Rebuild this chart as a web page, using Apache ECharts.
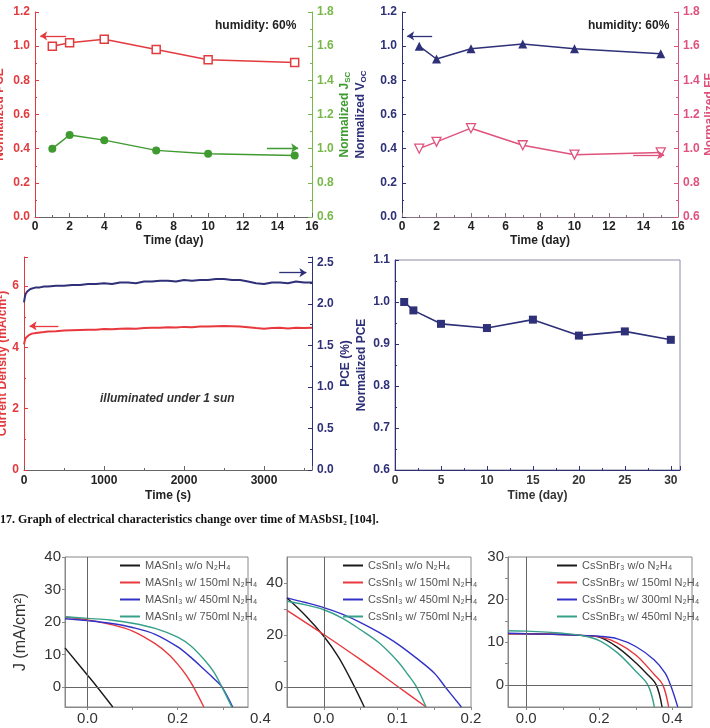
<!DOCTYPE html>
<html lang="en">
<head>
<meta charset="UTF-8">
<title>Stability of MASbSI2 and J-V curves</title>
<script src="https://cdn.jsdelivr.net/npm/echarts@6/dist/echarts.min.js"></script>
<style>
  html, body { margin: 0; padding: 0; background: #fff; }
  #main { width: 710px; height: 728px; }
</style>
</head>
<body>
<div id="main"></div>
<script>
// humidity test (top row)
var humDays = [1, 2, 4, 7, 10, 15];
var pceHum = [1.00, 1.02, 1.04, 0.98, 0.92, 0.905];
var jscHum = [1.00, 1.08, 1.05, 0.99, 0.97, 0.96];
var vocHum = [1.00, 0.925, 0.985, 1.012, 0.985, 0.955];
var ffHum = [1.00, 1.04, 1.12, 1.02, 0.965, 0.978];

// stabilised output under 1 sun
var stabTime = [0, 10, 20, 40, 60, 80, 100, 150, 200, 250,
  300, 400, 500, 600, 700, 800, 900, 1000, 1100, 1200, 1300, 1400, 1500, 1600, 1700,
  1800, 1900, 2000, 2100, 2200, 2300, 2400, 2500, 2600, 2700, 2800, 2900, 3000, 3100,
  3200, 3300, 3400, 3500, 3600];
var stabJ = [4.10, 4.22, 4.30, 4.36, 4.40, 4.43, 4.45, 4.47, 4.49, 4.50,
  4.52, 4.53, 4.55, 4.56, 4.57, 4.58, 4.58, 4.60, 4.59, 4.61, 4.62, 4.61, 4.63, 4.64, 4.64,
  4.66, 4.65, 4.67, 4.66, 4.68, 4.68, 4.69, 4.70, 4.69, 4.68, 4.66, 4.63, 4.61, 4.63,
  4.64, 4.62, 4.64, 4.63, 4.64];
var stabPCE = [2.02, 2.08, 2.12, 2.15, 2.17, 2.18, 2.19, 2.20, 2.20, 2.21,
  2.21, 2.22, 2.22, 2.23, 2.23, 2.24, 2.24, 2.25, 2.24, 2.26, 2.26, 2.25, 2.27, 2.27, 2.28,
  2.28, 2.27, 2.29, 2.28, 2.29, 2.29, 2.30, 2.30, 2.29, 2.29, 2.27, 2.25, 2.24, 2.26,
  2.26, 2.25, 2.27, 2.26, 2.26];

// long term
var ltDays = [1, 2, 5, 10, 15, 20, 25, 30];
var ltPCE = [1.00, 0.98, 0.948, 0.938, 0.958, 0.92, 0.93, 0.91];

// J-V curves, MASnI3
var maNames = ['MASnI₃ w/o N₂H₄', 'MASnI₃ w/ 150ml N₂H₄', 'MASnI₃ w/ 450ml N₂H₄', 'MASnI₃ w/ 750ml N₂H₄'];
var maV0 = [-0.05, 0.0, 0.02, 0.056];
var maJ0 = [12.0, 3.6, 0.2, -6.2];
var maV1 = [-0.05, 0, 0.05, 0.1, 0.15, 0.18, 0.2, 0.22, 0.235, 0.258];
var maJ1 = [21.5, 20.6, 19.3, 17.2, 13.3, 10.0, 7.0, 3.4, 0, -6.2];
var maV2 = [-0.05, 0, 0.05, 0.1, 0.15, 0.2, 0.23, 0.26, 0.28, 0.298, 0.322];
var maJ2 = [21.0, 20.4, 19.6, 18.3, 16.2, 12.3, 9.0, 5.2, 2.6, 0, -6.2];
var maV3 = [-0.05, 0, 0.05, 0.1, 0.15, 0.2, 0.23, 0.26, 0.28, 0.298, 0.32];
var maJ3 = [21.6, 21.1, 20.6, 19.6, 18.0, 15.3, 12.5, 8.2, 4.6, 0, -6.2];

// J-V curves, CsSnI3
var csiNames = ['CsSnI₃ w/o N₂H₄', 'CsSnI₃ w/ 150ml N₂H₄', 'CsSnI₃ w/ 450ml N₂H₄', 'CsSnI₃ w/ 750ml N₂H₄'];
var csiV0 = [-0.05, -0.025, 0, 0.02, 0.04, 0.055];
var csiJ0 = [34.2, 27.5, 19.5, 11.5, 1.0, -7.7];
var csiV1 = [-0.05, 0, 0.05, 0.1, 0.139];
var csiJ1 = [29.5, 20.2, 10.5, 0.3, -7.7];
var csiV2 = [-0.05, -0.025, 0, 0.025, 0.05, 0.075, 0.1, 0.125, 0.15, 0.165, 0.187];
var csiJ2 = [34.3, 32.5, 30.5, 28.0, 24.8, 21.0, 16.6, 11.3, 5.4, 0, -7.7];
var csiV3 = [-0.05, -0.025, 0, 0.025, 0.05, 0.075, 0.1, 0.115, 0.125, 0.139];
var csiJ3 = [33.0, 31.6, 29.7, 26.5, 22.0, 17.0, 10.0, 4.5, 0.5, -7.7];

// J-V curves, CsSnBr3
var cbNames = ['CsSnBr₃ w/o N₂H₄', 'CsSnBr₃ w/ 150ml N₂H₄', 'CsSnBr₃ w/ 300ml N₂H₄', 'CsSnBr₃ w/ 450ml N₂H₄'];
var cbV0 = [-0.05, 0, 0.1, 0.15, 0.2, 0.25, 0.3, 0.33, 0.356, 0.372];
var cbJ0 = [12.0, 11.95, 11.8, 11.6, 11.2, 8.8, 5.2, 2.6, 0, -5.2];
var cbV1 = [-0.05, 0, 0.1, 0.15, 0.2, 0.25, 0.3, 0.35, 0.374, 0.39];
var cbJ1 = [12.0, 11.95, 11.8, 11.6, 11.3, 9.8, 7.0, 2.5, 0, -5.2];
var cbV2 = [-0.05, 0, 0.1, 0.15, 0.2, 0.25, 0.3, 0.35, 0.38, 0.395, 0.415];
var cbJ2 = [12.1, 12.0, 11.8, 11.6, 11.4, 10.8, 9.0, 5.9, 2.8, 0, -5.2];
var cbV3 = [-0.05, 0, 0.1, 0.15, 0.2, 0.25, 0.3, 0.333, 0.351];
var cbJ3 = [12.7, 12.6, 12.1, 11.6, 10.4, 7.5, 3.2, 0, -5.2];

var SANS = "'Liberation Sans', Arial, sans-serif";
var RED = '#e23b3f', GREEN = '#3f9a30', GREEN_AX = '#78b84a', NAVY = '#2e3078', PINK = '#e0527e';
var JV_COLORS = ['#1a1a1a', '#e8383d', '#3232c8', '#36a08a'];

function pairs(xs, ys) {
  return xs.map(function (x, i) { return [x, ys[i]]; });
}

function arrow(color, from, to) {
  return {
    silent: true, symbol: ['none', 'arrow'], symbolSize: 7,
    label: { show: false }, lineStyle: { color: color, width: 1.3, type: 'solid' },
    data: [[{ coord: from }, { coord: to }]]
  };
}

function zeroLines() {
  return {
    silent: true, symbol: ['none', 'none'], label: { show: false },
    lineStyle: { color: '#666', width: 1, type: 'solid' },
    data: [{ xAxis: 0 }, { yAxis: 0 }]
  };
}

function boldText(color, size) {
  return { color: color, fontWeight: 'bold', fontSize: size || 12, fontFamily: SANS };
}

// axis for the "stability" panels
function sideAxis(o) {
  return {
    gridIndex: o.grid, type: 'value', position: o.pos,
    min: o.min, max: o.max, interval: o.step,
    axisLine: { show: true, onZero: false, lineStyle: { color: o.line } },
    axisTick: { show: true, inside: true, length: 4, lineStyle: { color: o.line } },
    minorTick: { show: true, splitNumber: 2, length: 2, lineStyle: { color: o.line } },
    splitLine: { show: false },
    axisLabel: {
      color: o.label, fontWeight: 'bold', fontSize: 12, fontFamily: SANS, margin: o.margin || 5,
      showMaxLabel: o.hideMax ? false : null,
      formatter: function (v) { return o.fixed == null ? String(v) : v.toFixed(o.fixed); }
    },
    name: o.name, nameLocation: 'middle', nameGap: o.gap,
    nameTextStyle: Object.assign(boldText(o.nameColor || o.label), { rich: o.rich || {} })
  };
}

// axis for the J-V panels
function jvAxis(grid, min, max, labels, ticks, fixed, name) {
  return {
    gridIndex: grid, type: 'value', min: min, max: max,
    axisLine: { show: true, onZero: false, lineStyle: { color: '#888' } },
    axisTick: { show: true, customValues: ticks, length: 3, lineStyle: { color: '#888' } },
    splitLine: { show: false },
    axisLabel: {
      customValues: labels, color: '#333', fontSize: 15, fontFamily: SANS, margin: 4,
      formatter: function (v) { return fixed ? v.toFixed(fixed) : String(v); }
    },
    name: name || '', nameLocation: 'middle', nameGap: 36,
    nameTextStyle: { color: '#333', fontSize: 16, fontFamily: SANS }
  };
}

function jvLegend(names, left) {
  return {
    orient: 'vertical', left: left, top: 560, padding: 0, itemWidth: 20, itemHeight: 2, itemGap: 6,
    icon: 'rect', data: names, selectedMode: false,
    textStyle: { color: '#555', fontSize: 11, fontFamily: SANS }
  };
}

function jvSeries(names, vs, js, xi, yi) {
  return names.map(function (n, k) {
    var s = {
      name: n, type: 'line', xAxisIndex: xi, yAxisIndex: yi, data: pairs(vs[k], js[k]),
      showSymbol: false, smooth: 0.35, clip: true,
      lineStyle: { color: JV_COLORS[k], width: 1.4 }, itemStyle: { color: JV_COLORS[k] }
    };
    if (k === 0) s.markLine = zeroLines();
    return s;
  });
}

var subRich = function (color) {
  return { s: { fontSize: 8, fontWeight: 'bold', color: color, fontFamily: SANS, padding: [7, 0, 0, 0] } };
};

var chart = echarts.init(document.getElementById('main'));

var option = {
  animation: false,
  backgroundColor: '#fff',
  grid: [
    { left: 35, top: 12, width: 277, height: 205, outerBoundsMode: 'none' },
    { left: 402, top: 12, width: 276, height: 205, outerBoundsMode: 'none' },
    { left: 24, top: 257, width: 288, height: 213, outerBoundsMode: 'none' },
    { left: 395, top: 260, width: 285, height: 210, show: true, borderColor: '#8a8aa8', borderWidth: 1, outerBoundsMode: 'none' },
    { left: 65, top: 557, width: 183, height: 150, show: true, borderColor: '#888', borderWidth: 1, outerBoundsMode: 'none' },
    { left: 287, top: 557, width: 184, height: 150, show: true, borderColor: '#888', borderWidth: 1, outerBoundsMode: 'none' },
    { left: 508, top: 557, width: 184, height: 150, show: true, borderColor: '#888', borderWidth: 1, outerBoundsMode: 'none' }
  ],
  legend: [
    jvLegend(maNames, 120),
    jvLegend(csiNames, 343),
    jvLegend(cbNames, 557)
  ],
  xAxis: [
    sideAxis({ grid: 0, pos: 'bottom', min: 0, max: 16, step: 2, line: '#666', label: '#222', margin: 4,
      name: 'Time (day)', gap: 18 }),
    sideAxis({ grid: 1, pos: 'bottom', min: 0, max: 16, step: 2, line: '#8a7080', label: '#222', margin: 4,
      name: 'Time (day)', gap: 18 }),
    sideAxis({ grid: 2, pos: 'bottom', min: 0, max: 3600, step: 1000, line: '#666', label: '#222', margin: 5,
      name: 'Time (s)', gap: 20, hideMax: true }),
    sideAxis({ grid: 3, pos: 'bottom', min: 0, max: 31, step: 5, line: NAVY, label: '#333', margin: 5,
      name: 'Time (day)', gap: 20, hideMax: true, nameColor: '#333' }),
    jvAxis(4, -0.05, 0.356, [0, 0.2], [0, 0.1, 0.2, 0.3], 1),
    jvAxis(5, -0.05, 0.2, [0, 0.1, 0.2], [0, 0.05, 0.1, 0.15, 0.2], 1),
    jvAxis(6, -0.05, 0.454, [0, 0.2, 0.4], [0, 0.1, 0.2, 0.3, 0.4], 1)
  ],
  yAxis: [
    sideAxis({ grid: 0, pos: 'left', min: 0, max: 1.2, step: 0.2, line: RED, label: RED, fixed: 1,
      name: 'Normalized PCE', gap: 29 }),
    sideAxis({ grid: 0, pos: 'right', min: 0.6, max: 1.8, step: 0.2, line: GREEN_AX, label: GREEN_AX, fixed: 1,
      name: 'Normalized J{s|SC}', gap: 25, nameColor: GREEN, rich: subRich(GREEN) }),
    sideAxis({ grid: 1, pos: 'left', min: 0, max: 1.2, step: 0.2, line: NAVY, label: NAVY, fixed: 1,
      name: 'Normalized V{s|OC}', gap: 34, rich: subRich(NAVY) }),
    sideAxis({ grid: 1, pos: 'right', min: 0.6, max: 1.8, step: 0.2, line: PINK, label: PINK, fixed: 1,
      name: 'Normalized FF', gap: 25 }),
    sideAxis({ grid: 2, pos: 'left', min: 0, max: 6.95, step: 2, line: RED, label: RED, hideMax: true,
      name: 'Current Density (mA/cm²)', gap: 12 }),
    sideAxis({ grid: 2, pos: 'right', min: 0, max: 2.566, step: 0.5, line: NAVY, label: NAVY, fixed: 1, hideMax: true,
      name: 'PCE (%)', gap: 28 }),
    sideAxis({ grid: 3, pos: 'left', min: 0.6, max: 1.1, step: 0.1, line: NAVY, label: NAVY, fixed: 1,
      name: 'Normalized PCE', gap: 27 }),
    jvAxis(4, -6.2, 40, [0, 10, 20, 30, 40], [0, 10, 20, 30, 40], 0, 'J (mA/cm²)'),
    jvAxis(5, -7.7, 50, [0, 20, 40], [0, 10, 20, 30, 40], 0),
    jvAxis(6, -5.2, 30, [0, 10, 20, 30], [0, 5, 10, 15, 20, 25, 30], 0)
  ],
  graphic: [
    { type: 'text', left: 215, top: 20, style: { text: 'humidity: 60%', font: 'bold 12px ' + SANS, fill: '#222' } },
    { type: 'text', left: 588, top: 20, style: { text: 'humidity: 60%', font: 'bold 12px ' + SANS, fill: '#222' } },
    { type: 'text', left: 100, top: 393, style: { text: 'illuminated under 1 sun', font: 'italic bold 12px ' + SANS, fill: '#333' } },
    { type: 'text', left: 250, top: 711, style: { text: '0.4', font: '15px ' + SANS, fill: '#333' } },
    { type: 'text', left: 0, top: 514, style: {
      text: '17. Graph of electrical characteristics change over time of MASbSI₂ [104].',
      font: "bold 12px 'Liberation Serif', 'Times New Roman', serif", fill: '#111' } }
  ],
  series: [
    {
      name: 'PCE humidity', type: 'line', xAxisIndex: 0, yAxisIndex: 0, data: pairs(humDays, pceHum),
      symbol: 'rect', symbolSize: 8, lineStyle: { color: RED, width: 1.5 },
      itemStyle: { color: '#fff', borderColor: RED, borderWidth: 1.5 },
      markLine: arrow(RED, [1.8, 1.06], [0.3, 1.06])
    },
    {
      name: 'Jsc humidity', type: 'line', xAxisIndex: 0, yAxisIndex: 1, data: pairs(humDays, jscHum),
      symbol: 'circle', symbolSize: 8, lineStyle: { color: GREEN, width: 1.5 },
      itemStyle: { color: GREEN },
      markLine: arrow(GREEN, [13.4, 1.004], [15.2, 1.004])
    },
    {
      name: 'Voc humidity', type: 'line', xAxisIndex: 1, yAxisIndex: 2, data: pairs(humDays, vocHum),
      symbol: 'triangle', symbolSize: 9, lineStyle: { color: NAVY, width: 1.5 },
      itemStyle: { color: NAVY },
      markLine: arrow(NAVY, [1.75, 1.06], [0.3, 1.06])
    },
    {
      name: 'FF humidity', type: 'line', xAxisIndex: 1, yAxisIndex: 3, data: pairs(humDays, ffHum),
      symbol: 'triangle', symbolRotate: 180, symbolSize: 9, lineStyle: { color: PINK, width: 1.5 },
      itemStyle: { color: '#fff', borderColor: PINK, borderWidth: 1.3 },
      markLine: arrow(PINK, [13.4, 0.964], [15.2, 0.964])
    },
    {
      name: 'J stabilised', type: 'line', xAxisIndex: 2, yAxisIndex: 4, data: pairs(stabTime, stabJ),
      showSymbol: false, lineStyle: { color: '#e8383d', width: 2 }, itemStyle: { color: '#e8383d' },
      markLine: arrow('#e8383d', [430, 4.7], [70, 4.7])
    },
    {
      name: 'PCE stabilised', type: 'line', xAxisIndex: 2, yAxisIndex: 5, data: pairs(stabTime, stabPCE),
      showSymbol: false, lineStyle: { color: NAVY, width: 2 }, itemStyle: { color: NAVY },
      markLine: arrow(NAVY, [3190, 2.377], [3530, 2.377])
    },
    {
      name: 'PCE long term', type: 'line', xAxisIndex: 3, yAxisIndex: 6, data: pairs(ltDays, ltPCE),
      symbol: 'rect', symbolSize: 8, lineStyle: { color: NAVY, width: 1.6 }, itemStyle: { color: NAVY }
    }
  ]
    .concat(jvSeries(maNames, [maV0, maV1, maV2, maV3], [maJ0, maJ1, maJ2, maJ3], 4, 7))
    .concat(jvSeries(csiNames, [csiV0, csiV1, csiV2, csiV3], [csiJ0, csiJ1, csiJ2, csiJ3], 5, 8))
    .concat(jvSeries(cbNames, [cbV0, cbV1, cbV2, cbV3], [cbJ0, cbJ1, cbJ2, cbJ3], 6, 9))
};

chart.setOption(option);
</script>
</body>
</html>
